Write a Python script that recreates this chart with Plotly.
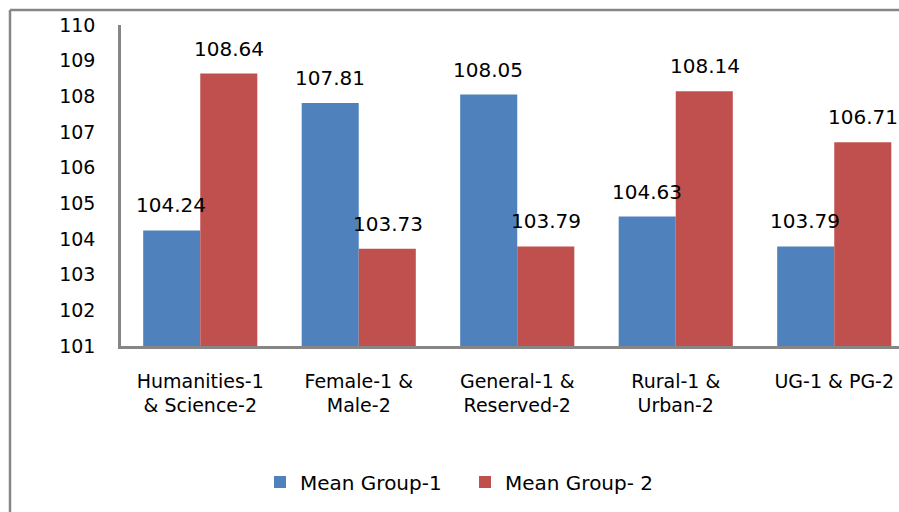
import plotly.graph_objects as go

categories = ["Humanities-1<br>& Science-2", "Female-1 &<br>Male-2", "General-1 &<br>Reserved-2",
              "Rural-1 &<br>Urban-2", "UG-1 & PG-2"]
group1 = [104.24, 107.81, 108.05, 104.63, 103.79]
group2 = [108.64, 103.73, 103.79, 108.14, 106.71]
series_names = ["Mean Group-1", "Mean Group- 2"]
y_ticks = [101, 102, 103, 104, 105, 106, 107, 108, 109, 110]

BLUE = "#4F81BD"
RED = "#C0504D"
GREY = "#868686"
FONT = "DejaVu Sans"

W, H = 899, 512
ML, MR, MT, MB = 121, 0, 25, 166
PW = W - ML - MR
PH = H - MT - MB

def px_x(p):
    return (p - ML) / PW

def px_y(p):
    return (H - MB - p) / PH

fig = go.Figure()
fig.add_trace(go.Bar(x=categories, y=[v - 101 for v in group1], base=101, name=series_names[0],
                     marker=dict(color=BLUE, line=dict(width=0))))
fig.add_trace(go.Bar(x=categories, y=[v - 101 for v in group2], base=101, name=series_names[1],
                     marker=dict(color=RED, line=dict(width=0))))

annotations = []
for vals, shift in ((group1, -29), (group2, 29)):
    for c, v in zip(categories, vals):
        annotations.append(dict(x=c, y=v, xref="x", yref="y", text=f"{v:.2f}", showarrow=False,
                                xshift=shift, yshift=11, yanchor="bottom", xanchor="center",
                                font=dict(family=FONT, size=20, color="#000000")))

spacing = 158.5
x_end = -0.5 + PW / spacing

shapes = [
    dict(type="line", xref="paper", yref="paper", x0=px_x(10), x1=px_x(10), y0=px_y(10), y1=px_y(520),
         line=dict(color=GREY, width=2.5)),
    dict(type="line", xref="paper", yref="paper", x0=px_x(10), x1=px_x(910), y0=px_y(10), y1=px_y(10),
         line=dict(color=GREY, width=2.5)),
]

fig.update_layout(
    width=W, height=H,
    margin=dict(l=ML, r=MR, t=MT, b=MB, pad=0),
    paper_bgcolor="white", plot_bgcolor="white",
    barmode="group", bargap=0.28, bargroupgap=0,
    font=dict(family=FONT, size=20, color="#000000"),
    showlegend=True,
    legend=dict(orientation="h", x=px_x(465), xanchor="center", y=px_y(482), yanchor="middle",
                font=dict(family=FONT, size=20, color="#000000"), itemwidth=30,
                entrywidth=160, entrywidthmode="pixels",
                bgcolor="rgba(0,0,0,0)"),
    annotations=annotations,
    shapes=shapes,
    xaxis=dict(range=[-0.5, x_end], showline=True, linecolor=GREY, linewidth=2.5, showgrid=False,
               ticks="", tickfont=dict(family=FONT, size=19, color="#000000"),
               ticklabelstandoff=16, zeroline=False, fixedrange=True),
    yaxis=dict(range=[101, 110], tickvals=y_ticks, showline=True, linecolor=GREY, linewidth=2.5,
               showgrid=False, ticks="", tickfont=dict(family=FONT, size=19, color="#000000"),
               ticklabelstandoff=19, zeroline=False, fixedrange=True),
)

fig.write_html("out.html", config={"displayModeBar": False},
               post_script="document.body.style.margin='0';document.body.style.overflow='hidden';")
